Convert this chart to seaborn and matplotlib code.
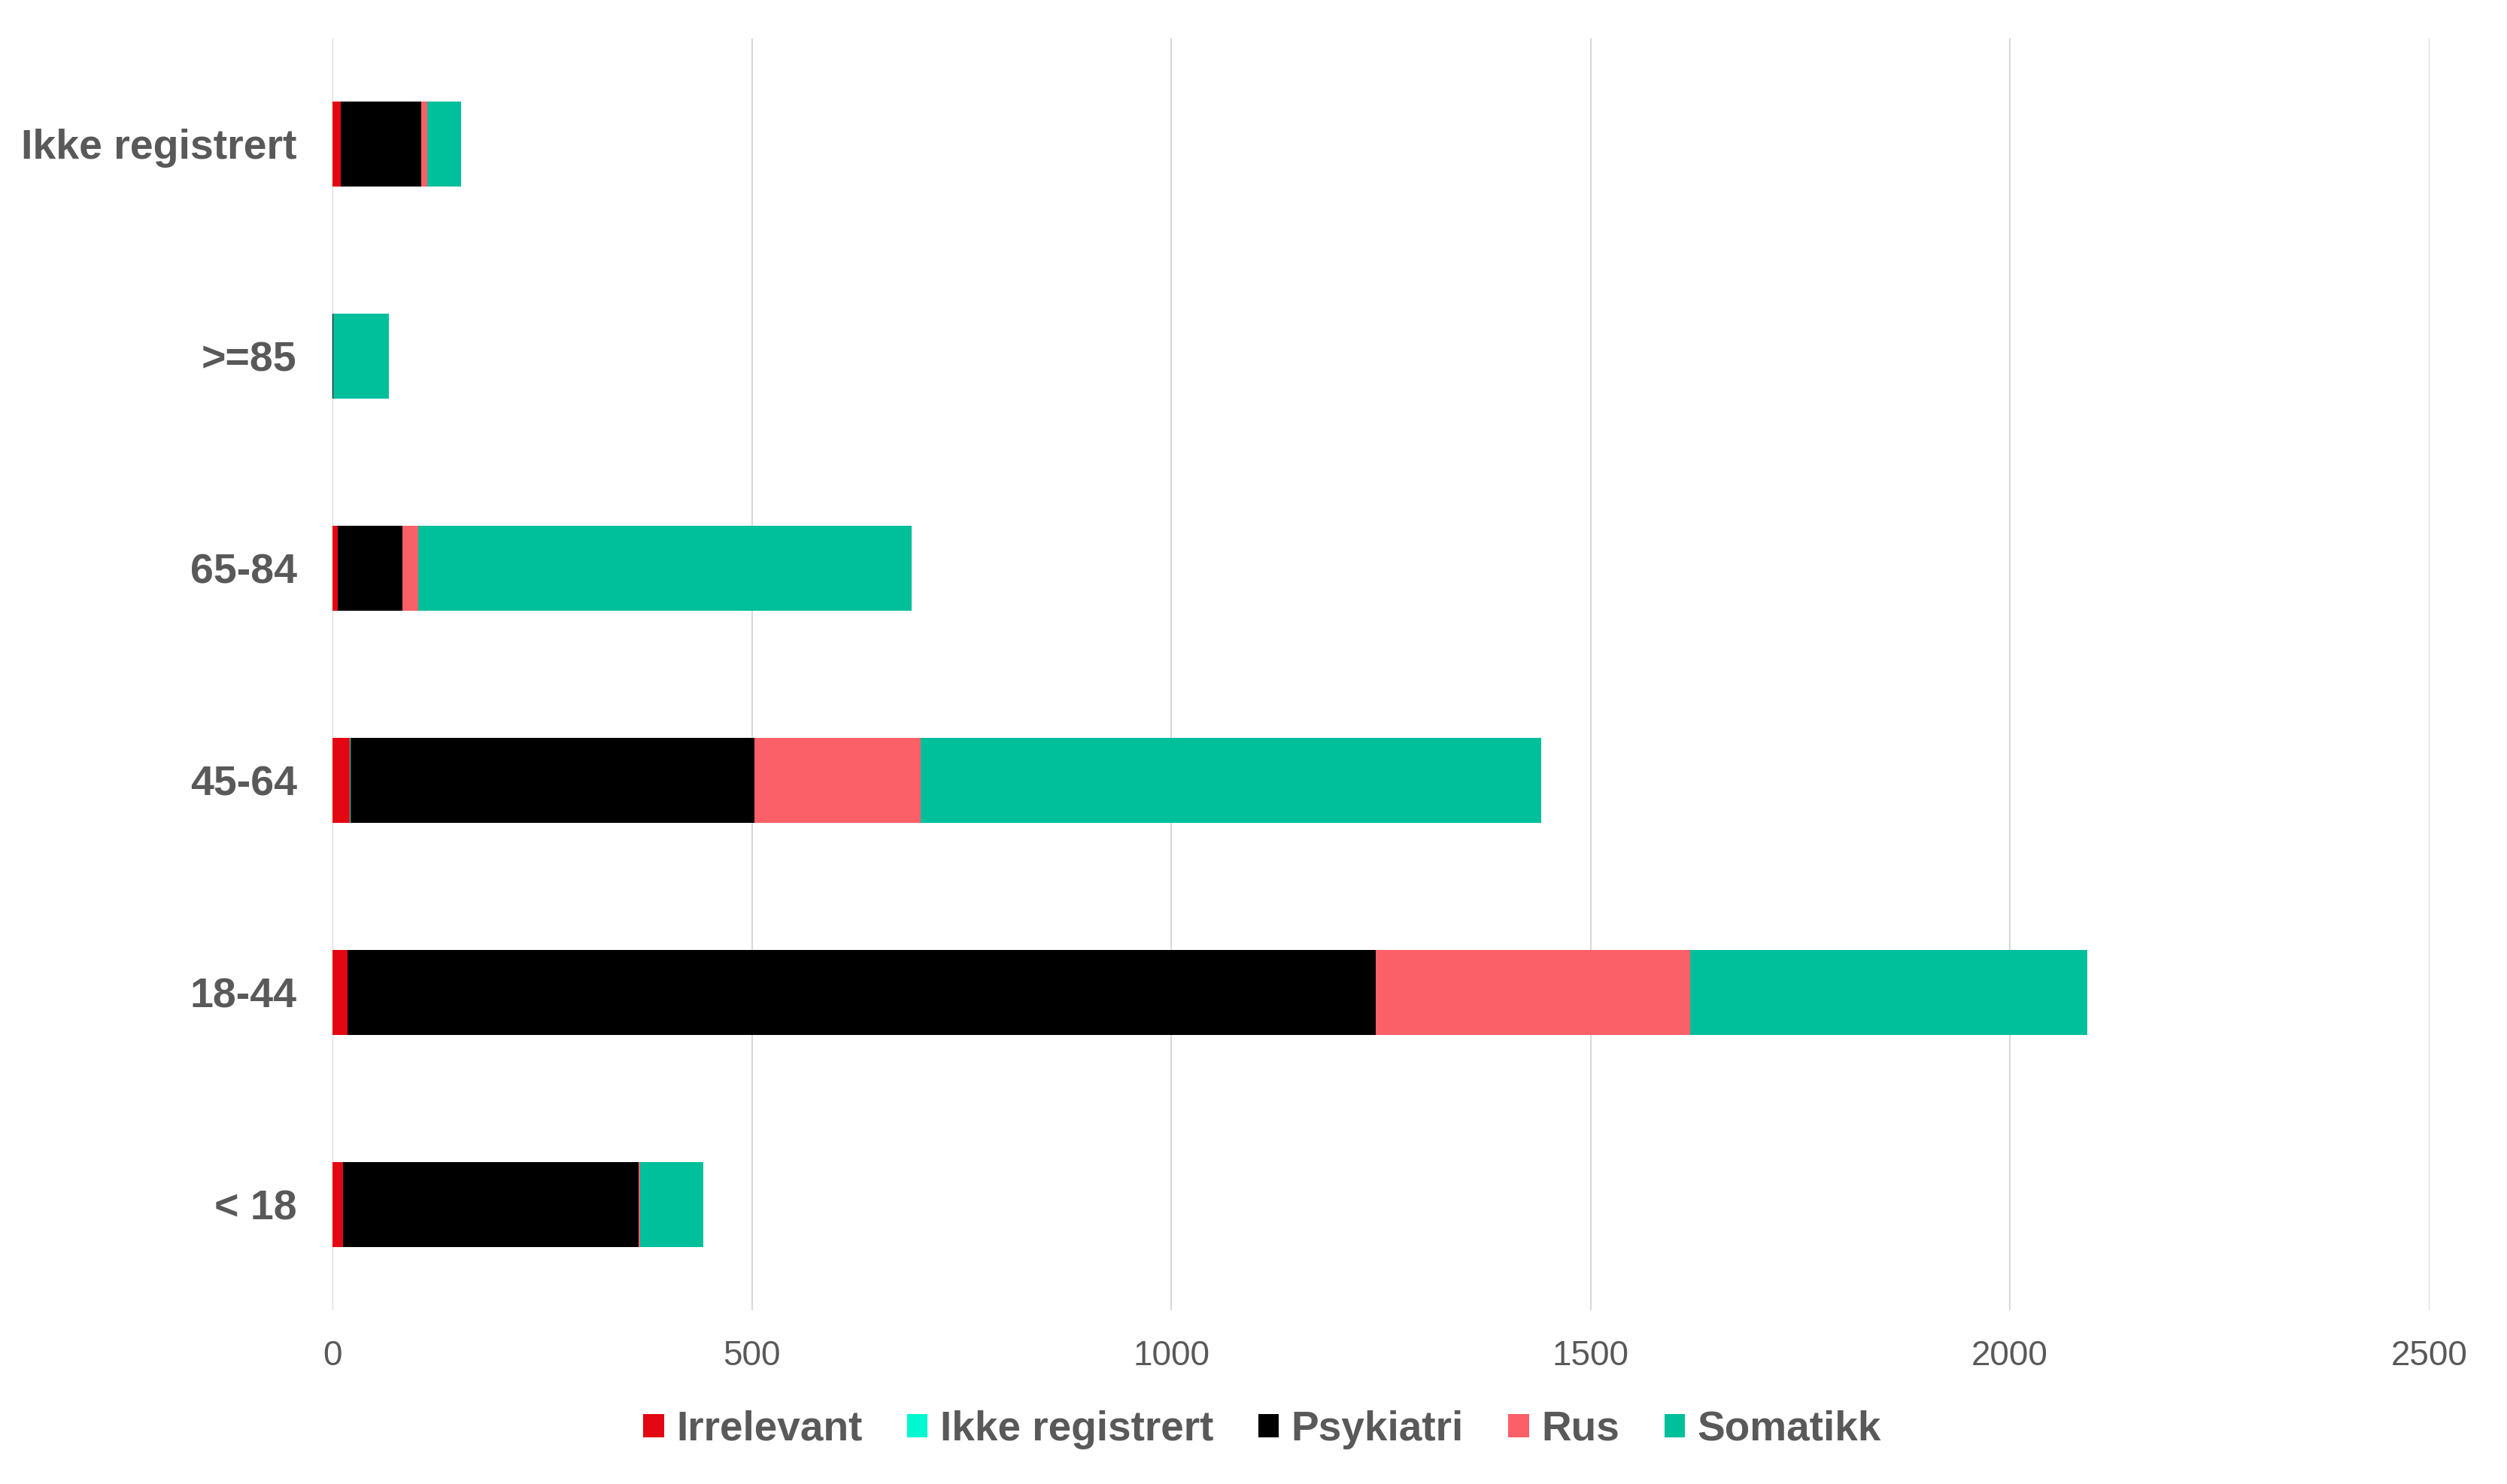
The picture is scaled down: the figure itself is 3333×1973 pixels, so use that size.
import matplotlib
matplotlib.use("Agg")
import matplotlib.pyplot as plt
import seaborn as sns
import numpy as np
import pandas as pd
from matplotlib.patches import Patch

# ---- data ----
categories = ["Ikke registrert", ">=85", "65-84", "45-64", "18-44", "< 18"]
series_names = ["Irrelevant", "Ikke registrert", "Psykiatri", "Rus", "Somatikk"]
irrelevant = [10, 0, 6, 21, 18, 13]
ikke_registrert = [0, 0, 0, 1, 0, 0]
psykiatri = [96, 1, 77, 481, 1226, 352]
rus = [7, 0, 19, 198, 375, 2]
somatikk = [40, 66, 589, 740, 473, 75]
xticks = [0, 500, 1000, 1500, 2000, 2500]

colors = ["#E30613", "#00F7CF", "#000000", "#FB5F68", "#00BF9B"]
text_color = "#595959"

sns.set_theme(style="white")
plt.rcParams["font.family"] = ["Liberation Sans", "DejaVu Sans"]

values = [irrelevant, ikke_registrert, psykiatri, rus, somatikk]
cum = np.cumsum(np.array(values, dtype=float), axis=0)

fig = plt.figure(figsize=(16.665, 9.865), dpi=200)
ax = fig.add_axes([0.1326, 0.1169, 0.969 - 0.1326, 0.9744 - 0.1169])

# draw cumulative totals from largest to smallest so segments stack
for i in range(len(series_names) - 1, -1, -1):
    df = pd.DataFrame({"cat": categories, "val": cum[i]})
    sns.barplot(data=df, x="val", y="cat", order=categories, orient="h",
                color=colors[i], saturation=1, width=0.4, ax=ax,
                edgecolor="none", linewidth=0, errorbar=None)

ax.set_xlim(0, 2500)
ax.set_xticks(xticks)
ax.set_xticklabels([str(t) for t in xticks])
ax.set_xlabel("")
ax.set_ylabel("")
ax.xaxis.grid(True, color="#D9D9D9", linewidth=0.75)
ax.yaxis.grid(False)
ax.set_axisbelow(True)
for s in ax.spines.values():
    s.set_visible(False)
ax.tick_params(axis="x", length=0, pad=14, labelsize=16.5, labelcolor=text_color)
ax.tick_params(axis="y", length=0, pad=17, labelsize=20, labelcolor=text_color)
for lab in ax.get_yticklabels():
    lab.set_fontweight("bold")

handles = [Patch(facecolor=c, edgecolor="none", label=n) for c, n in zip(colors, series_names)]
leg = fig.legend(handles=handles, loc="center", bbox_to_anchor=(0.5035, 0.0365),
                 ncol=5, frameon=False, handlelength=0.5, handleheight=0.5,
                 handletextpad=0.3, columnspacing=1.08,
                 prop={"size": 19.8, "weight": "bold"})
for t in leg.get_texts():
    t.set_color(text_color)

fig.savefig("out.png", dpi=200, facecolor="white")
